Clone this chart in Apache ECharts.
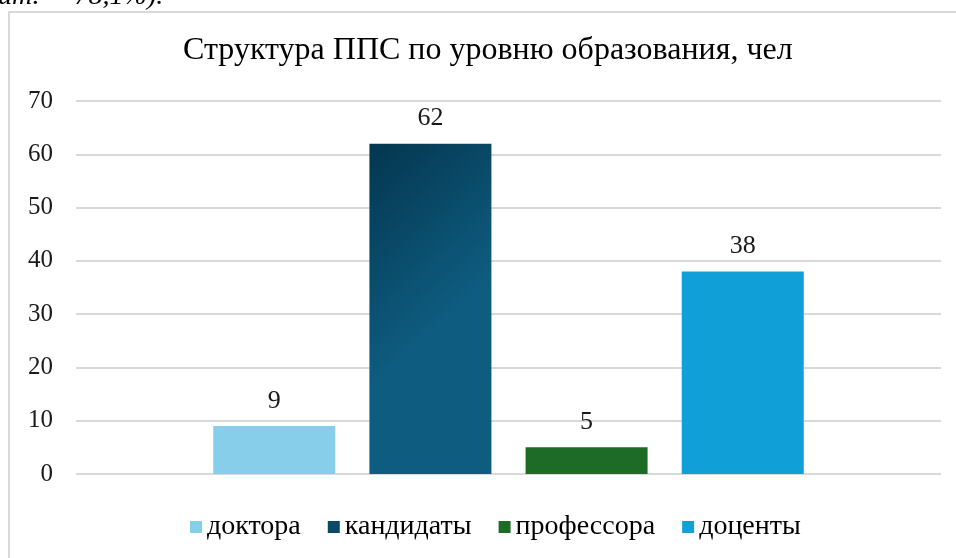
<!DOCTYPE html>
<html><head><meta charset="utf-8">
<script src="https://cdn.jsdelivr.net/npm/echarts@6/dist/echarts.min.js"></script>
<style>html,body{margin:0;padding:0;background:#fff}#c{width:956px;height:558px}</style>
</head><body><div id="c"></div>
<script>
const titleText = 'Структура ППС по уровню образования, чел';
const categories = [''];
const seriesNames = ['доктора', 'кандидаты', 'профессора', 'доценты'];
const values = [9, 62, 5, 38];
const yTicks = [0, 10, 20, 30, 40, 50, 60, 70];

const colors = [
  '#87CEEB',
  new echarts.graphic.LinearGradient(0, 0, 1, 0.4, [{offset: 0, color: '#04364F'}, {offset: 1, color: '#0E5C80'}]),
  '#1E6B28',
  '#109FD6'
];
const legendColors = ['#87CEEB', '#0A4A68', '#1E6B28', '#109FD6'];
const font = '"Liberation Serif", "DejaVu Serif", serif';

const chart = echarts.init(document.getElementById('c'), null, {renderer: 'canvas'});
chart.setOption({
  backgroundColor: '#fff',
  animation: false,
  graphic: [
    {type: 'rect', shape: {x: 9, y: 12, width: 960, height: 560}, style: {fill: 'none', stroke: '#d9d9d9', lineWidth: 2}, z: -1},
    {type: 'text', left: -2, top: -17, style: {text: 'ит.  – 78,1%).', font: 'italic 28px ' + font, fill: '#000'}}
  ],
  title: {
    text: titleText, left: 183, top: 35, padding: 0,
    textStyle: {fontFamily: font, fontSize: 32, fontWeight: 'normal', color: '#000'}
  },
  legend: {
    top: 513, left: 190, itemWidth: 12, itemHeight: 12, itemGap: 27, padding: 0,
    icon: 'rect',
    textStyle: {fontFamily: font, fontSize: 28, color: '#000'},
    data: seriesNames.map((n, i) => ({name: n, itemStyle: {color: legendColors[i]}}))
  },
  grid: {left: 76, right: 15, top: 101, bottom: 84},
  xAxis: {
    type: 'category', data: categories,
    axisLine: {show: false}, axisTick: {show: false}, axisLabel: {show: false}
  },
  yAxis: {
    type: 'value', min: yTicks[0], max: yTicks[yTicks.length - 1], interval: 10,
    axisLine: {show: false}, axisTick: {show: false},
    axisLabel: {fontFamily: font, fontSize: 25, color: '#1a1a1a', margin: 23},
    splitLine: {lineStyle: {color: '#d9d9d9', width: 2}}
  },
  series: seriesNames.map((n, i) => ({
    name: n, type: 'bar', data: [values[i]],
    barWidth: 122, barGap: '28%',
    itemStyle: {color: colors[i]},
    label: {show: true, position: 'top', distance: 12, fontFamily: font, fontSize: 26, color: '#1a1a1a'}
  }))
});
</script></body></html>
